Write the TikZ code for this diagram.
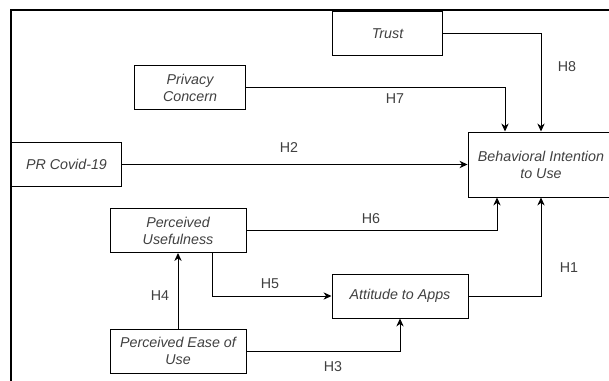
\documentclass[tikz,border=0pt]{standalone}
\usepackage{fontspec}
\setmainfont{Liberation Sans}
\usetikzlibrary{arrows.meta}
\definecolor{textgrey}{gray}{0.25}
\tikzset{
  box/.style={draw, line width=0.75pt, align=center, inner sep=1pt, minimum height=33pt,
    font=\fontsize{10.7}{12.75}\selectfont\itshape, text=textgrey},
  narrowbox/.style={box, minimum width=83pt},
  widebox/.style={box, minimum width=102pt},
  hyp/.style={font=\fontsize{10.7}{12.75}\selectfont, text=textgrey},
}
\begin{document}
\begin{tikzpicture}[x=0.75pt, y=-0.75pt, line width=0.75pt, >={Stealth[length=6pt,width=5.5pt]}]
  \useasboundingbox (0,0) rectangle (609,381);
  % frame
  \draw[line width=1.5pt] (11,381) -- (11,10) -- (609,10);

  \node[narrowbox] (trust) at (387.5,33.5) {Trust};
  \node[narrowbox] (privacy) at (190,88) {Privacy\\Concern};
  \node[narrowbox] (covid) at (66.5,164.5) {PR Covid-19};
  \node[box, minimum width=109.5pt, minimum height=48.75pt] (behav) at (541,164.5) {Behavioral Intention\\to Use};
  \node[widebox] (pu) at (178,230.5) {Perceived\\Usefulness};
  \node[widebox] (att) at (400,296) {Attitude to Apps};
  \node[widebox] (peou) at (178,351) {Perceived Ease of\\Use};

  \node[hyp] (h8) at (567,67) {H8};
  \node[hyp] (h7) at (395,99) {H7};
  \node[hyp] (h2) at (289,148) {H2};
  \node[hyp] (h6) at (371,219) {H6};
  \node[hyp] (h1) at (569,268) {H1};
  \node[hyp] (h5) at (270,284) {H5};
  \node[hyp] (h4) at (160,296) {H4};
  \node[hyp] (h3) at (333,367) {H3};

  \draw[->] (trust.east) -| (behav.north);
  \draw[->] (privacy.east) -| ([xshift=-27pt]behav.north);
  \draw[->] (covid.east) -- (behav.west);
  \draw[->] (pu.east) -| ([xshift=-33pt]behav.south);
  \draw[->] (att.east) -| (behav.south);
  \draw[->] (peou.north) -- (pu.south);
  \draw[->] ([xshift=25.5pt]pu.south) |- (att.west);
  \draw[->] (peou.east) -| (att.south);
\end{tikzpicture}
\end{document}
